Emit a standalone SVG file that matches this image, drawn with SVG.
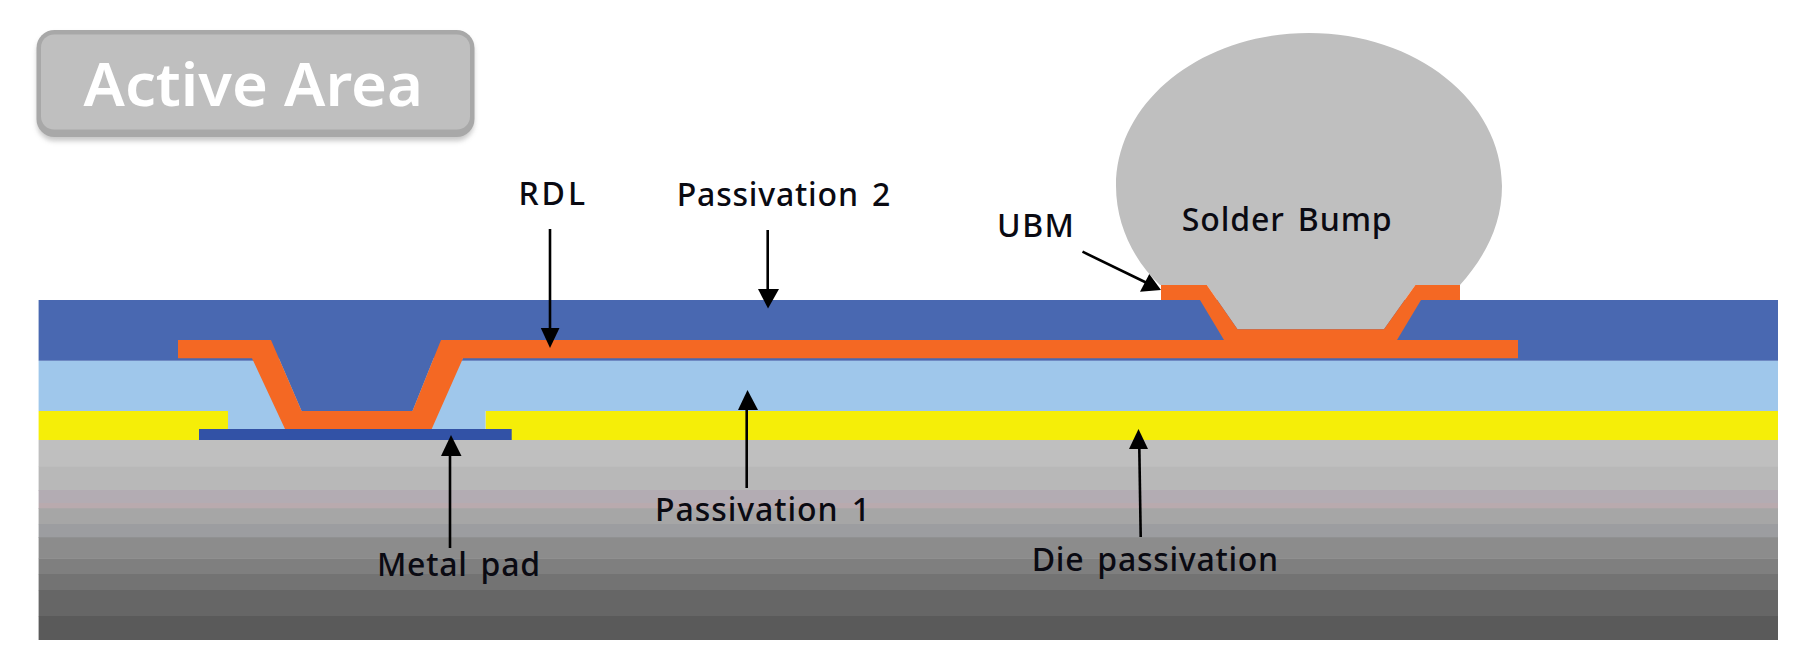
<svg xmlns="http://www.w3.org/2000/svg" width="1800" height="672" viewBox="0 0 1800 672">
<style>
.l{font-family:"Noto Sans","Open Sans","Liberation Sans",sans-serif;font-size:32px;font-weight:500;word-spacing:4px;fill:#0a0a12}
.c{stroke:#000;stroke-width:2.6;fill:none}
.h{fill:#000;stroke:none}
</style>
<defs><filter id="sh" x="-5%" y="-10%" width="110%" height="125%"><feGaussianBlur stdDeviation="2.5"/></filter></defs>
<rect width="1800" height="672" fill="#fff"/>
<g id="active-area">
<rect x="37" y="34" width="437" height="107" rx="18" fill="#b5b5b5" opacity=".75" filter="url(#sh)"/>
<rect x="36.500" y="30" width="438" height="107" rx="18" fill="#a8a8a8"/>
<rect x="41" y="34.500" width="429" height="95" rx="13" fill="#bfbfbf"/>
<text x="83.500" y="105.500" textLength="339.500" lengthAdjust="spacingAndGlyphs" style="font-family:'Noto Sans','Open Sans',sans-serif;font-size:60px;font-weight:600;fill:#fff">Active Area</text>
</g>
<g id="substrate">
<rect x="38.600" y="440" width="1739.400" height="27" fill="#bfbfbf"/>
<rect x="38.600" y="466.700" width="1739.400" height="24" fill="#b8b8b8"/>
<rect x="38.600" y="490" width="1739.400" height="13" fill="#b3acb3"/>
<rect x="38.600" y="503" width="1739.400" height="6" fill="#b9aaae"/>
<rect x="38.600" y="508.300" width="1739.400" height="16" fill="#a6a6a6"/>
<rect x="38.600" y="524" width="1739.400" height="14" fill="#9c9da0"/>
<rect x="38.600" y="537.300" width="1739.400" height="21.300" fill="#8c8c8c"/>
<rect x="38.600" y="558.300" width="1739.400" height="16" fill="#7f7f7f"/>
<rect x="38.600" y="574" width="1739.400" height="16.300" fill="#737373"/>
<rect x="38.600" y="590" width="1739.400" height="26.300" fill="#666"/>
<rect x="38.600" y="616" width="1739.400" height="24" fill="#5a5a5a"/>
</g>
<g id="die-passivation">
<rect x="38.600" y="411" width="189.400" height="29" fill="#f5ee08"/>
<rect x="485.500" y="411" width="1292.500" height="29" fill="#f5ee08"/>
</g>
<g id="passivation-1">
<rect x="38.600" y="360.700" width="1739.400" height="50.300" fill="#9fc7eb"/>
<rect x="228" y="411" width="257.500" height="18" fill="#9fc7eb"/>
</g>
<g id="passivation-2">
<path d="M38.600 300H1778V360.700H38.600Z" fill="#4968b1"/>
<path d="M253 358H463L433 412H283Z" fill="#9fc7eb"/>
<path d="M271 340H441L412.500 411H301.600Z" fill="#4968b1"/>
</g>
<g id="metal-pad">
<rect x="199" y="429" width="312.700" height="11" fill="#3252a6"/>
</g>
<g id="solder-bump">
<path d="M1160 285C1135 262 1116 226 1116 186C1116 101 1202 33 1309 33C1416 33 1502 101 1502 186C1502 226 1484 258 1460 285H1415.400L1384 329.300H1237.500L1206.800 285Z" fill="#bfbfbf"/>
</g>
<g id="rdl-ubm">
<path d="M178 340H271L301.600 411H412.500L441 340H1224L1200 300H1161V285H1206.800L1237.500 329.300H1384L1415.400 285H1460V300H1421L1397 340H1518V358.300H463L431.700 429H285L252 358.300H178Z" fill="#f46823"/>
</g>
<g id="connectors">
<path class="c" d="M550 229V330"/><path class="h" d="M540.800 328H559.500L550 348Z"/>
<path class="c" d="M767.700 230V291"/><path class="h" d="M758 289H779L768 308.500Z"/>
<path class="c" d="M450 548V454"/><path class="h" d="M441 456H461.500L451 435Z"/>
<path class="c" d="M746.700 488V408"/><path class="h" d="M738 410H758L747.500 390Z"/>
<path class="c" d="M1140.700 537L1139.300 447"/><path class="h" d="M1129 449H1148L1138.500 429Z"/>
<path class="c" d="M1082.500 251.700L1147 283"/><path class="h" d="M1149.300 274L1140 291.700L1161 290Z"/>
</g>
<g id="labels">
<text class="l" x="518.500" y="205" textLength="66.500">RDL</text>
<text class="l" x="676.700" y="205.500" textLength="213.500">Passivation 2</text>
<text class="l" x="997" y="236.700" textLength="77">UBM</text>
<text class="l" x="1181.700" y="230.700" textLength="210">Solder Bump</text>
<text class="l" x="655" y="520.700" textLength="215">Passivation 1</text>
<text class="l" x="377" y="576" textLength="163">Metal pad</text>
<text class="l" x="1031.700" y="570.700" textLength="246.500">Die passivation</text>
</g>
</svg>
